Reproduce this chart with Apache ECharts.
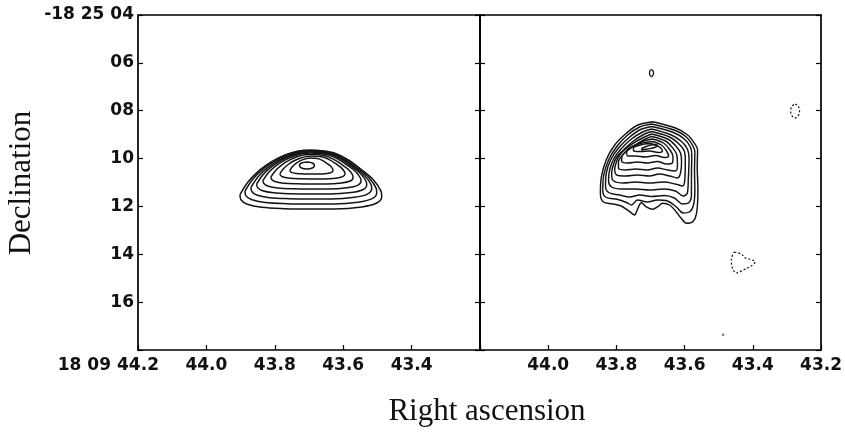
<!DOCTYPE html>
<html><head><meta charset="utf-8">
<script src="https://cdn.jsdelivr.net/npm/echarts@6/dist/echarts.min.js"></script>
<style>html,body{margin:0;padding:0;background:#fff}#c{width:845px;height:434px}</style>
</head><body><div id="c"></div>
<script>
// ---- tick labels ----
const raTickValues = [44.2, 44.0, 43.8, 43.6, 43.4, 43.2];
const raLabelsLeft = ['44.2', '44.0', '43.8', '43.6', '43.4', ''];
const raLabelsRight = ['', '44.0', '43.8', '43.6', '43.4', '43.2'];
const raPrefix = '18 09';
const decTickValues = [4, 6, 8, 10, 12, 14, 16, 18];
const decLabels = ['-18 25 04', '06', '08', '10', '12', '14', '16', ''];

// ---- left panel (model): nested dome-shaped contours ----
// normalised outline of the dome contours (u: -1 left .. 1 right, v: 0 top .. 1 bottom)
const leftDomeU = [-1, -0.882, -0.718, -0.553, -0.365, -0.176, -0.012, 0.153, 0.341, 0.529, 0.718, 0.882, 0.991, 1.0, 0.929, 0.718, 0.341, -0.012, -0.365, -0.694, -0.906, -0.986];
const leftDomeV = [0.758, 0.534, 0.337, 0.197, 0.084, 0.017, 0, 0.011, 0.056, 0.169, 0.337, 0.506, 0.702, 0.787, 0.899, 0.966, 1.0, 1.0, 0.994, 0.972, 0.916, 0.843];
// per contour level: centre RA, half width (RA s), top and bottom Dec (arcsec)
const leftCenterRA = [43.6946, 43.6946, 43.6932, 43.6921, 43.6912, 43.6912, 43.6897, 43.6927];
const leftHalfWidthRA = [0.2072, 0.1926, 0.1765, 0.1608, 0.1433, 0.1199, 0.0950, 0.0629];
const leftTopDec = [9.641, 9.671, 9.696, 9.725, 9.767, 9.821, 9.892, 9.976];
const leftBottomDec = [12.107, 11.898, 11.689, 11.480, 11.271, 11.062, 10.853, 10.644];
const leftPeak = [[43.706,10.143],[43.690,10.186],[43.684,10.289],[43.690,10.392],[43.706,10.435],[43.722,10.392],[43.728,10.289],[43.722,10.186]];

// ---- right panel (observed) contours, [RA s, Dec arcsec] ----
const rightC0 = [[43.693,8.459],[43.625,8.735],[43.591,9.015],[43.571,9.362],[43.562,9.642],[43.563,10.340],[43.561,11.313],[43.565,12.287],[43.576,12.638],[43.594,12.705],[43.610,12.496],[43.625,12.220],[43.644,11.940],[43.664,11.869],[43.679,12.011],[43.693,12.120],[43.713,12.011],[43.727,11.844],[43.737,12.078],[43.747,12.358],[43.761,12.220],[43.786,11.982],[43.810,11.898],[43.839,11.802],[43.847,11.451],[43.844,10.757],[43.830,10.059],[43.805,9.433],[43.771,8.944],[43.737,8.597]];
const rightC1 = [[43.697,8.555],[43.627,8.827],[43.595,9.098],[43.577,9.433],[43.570,9.725],[43.571,10.477],[43.570,11.313],[43.574,11.940],[43.586,12.233],[43.604,12.275],[43.624,12.024],[43.650,11.773],[43.680,11.731],[43.709,11.815],[43.738,11.731],[43.756,11.940],[43.767,11.857],[43.796,11.710],[43.832,11.606],[43.840,11.313],[43.837,10.686],[43.823,10.060],[43.799,9.495],[43.767,9.015],[43.732,8.680]];
const rightC2 = [[43.697,8.660],[43.633,8.910],[43.601,9.182],[43.583,9.516],[43.579,9.851],[43.580,10.686],[43.580,11.522],[43.589,11.857],[43.606,11.898],[43.630,11.647],[43.659,11.543],[43.697,11.585],[43.732,11.522],[43.761,11.606],[43.791,11.522],[43.823,11.418],[43.832,11.146],[43.829,10.561],[43.817,10.060],[43.794,9.558],[43.761,9.098],[43.729,8.785]];
const rightC3 = [[43.697,8.764],[43.639,9.015],[43.609,9.286],[43.592,9.600],[43.587,9.976],[43.589,10.812],[43.592,11.439],[43.604,11.564],[43.627,11.355],[43.662,11.271],[43.703,11.313],[43.744,11.271],[43.785,11.271],[43.814,11.188],[43.823,10.937],[43.820,10.477],[43.808,10.018],[43.788,9.621],[43.756,9.182],[43.723,8.889]];
const rightC4 = [[43.697,8.869],[43.644,9.098],[43.618,9.370],[43.601,9.683],[43.598,10.060],[43.599,10.812],[43.606,11.146],[43.627,11.063],[43.662,10.979],[43.703,11.021],[43.744,10.979],[43.779,11.021],[43.808,10.937],[43.814,10.686],[43.811,10.352],[43.799,9.934],[43.779,9.642],[43.750,9.266],[43.720,8.994]];
const rightC5 = [[43.697,8.973],[43.650,9.182],[43.627,9.454],[43.612,9.767],[43.609,10.143],[43.612,10.603],[43.621,10.812],[43.644,10.728],[43.674,10.645],[43.703,10.728],[43.738,10.686],[43.773,10.728],[43.799,10.686],[43.805,10.436],[43.799,10.101],[43.788,9.809],[43.770,9.558],[43.744,9.307],[43.718,9.098]];
const rightC6 = [[43.697,9.077],[43.656,9.266],[43.636,9.537],[43.623,9.851],[43.621,10.269],[43.627,10.519],[43.650,10.477],[43.680,10.394],[43.709,10.477],[43.744,10.436],[43.773,10.477],[43.794,10.394],[43.794,10.143],[43.782,9.851],[43.761,9.600],[43.738,9.370],[43.715,9.182]];
const rightC7 = [[43.694,9.182],[43.662,9.349],[43.644,9.621],[43.634,9.934],[43.636,10.185],[43.653,10.227],[43.680,10.122],[43.709,10.185],[43.738,10.143],[43.767,10.185],[43.785,10.101],[43.782,9.851],[43.767,9.642],[43.747,9.454],[43.720,9.266]];
const rightC8 = [[43.694,9.286],[43.668,9.433],[43.653,9.683],[43.647,9.892],[43.659,9.955],[43.685,9.871],[43.715,9.934],[43.744,9.892],[43.767,9.892],[43.770,9.683],[43.756,9.516],[43.735,9.391],[43.715,9.328]];
const rightC9 = [[43.700,9.370],[43.677,9.495],[43.665,9.683],[43.677,9.746],[43.703,9.683],[43.729,9.704],[43.750,9.683],[43.750,9.558],[43.735,9.454],[43.718,9.391]];
const rightC10 = [[43.726,9.579],[43.709,9.475],[43.688,9.412],[43.680,9.454],[43.688,9.537],[43.709,9.600],[43.726,9.642]];
const rightBlob = [[43.697,6.278],[43.701,6.321],[43.703,6.424],[43.701,6.527],[43.697,6.570],[43.693,6.527],[43.691,6.424],[43.693,6.321]];
// negative (dashed) contours
const rightNegC = [[43.276,7.722],[43.267,7.807],[43.263,8.012],[43.267,8.217],[43.276,8.302],[43.285,8.217],[43.289,8.012],[43.285,7.807]];
const rightNegTri = [[43.454,13.904],[43.434,13.988],[43.422,14.155],[43.411,14.197],[43.393,14.322],[43.405,14.489],[43.428,14.657],[43.448,14.782],[43.460,14.573],[43.463,14.197]];
const rightDot = [[43.487,17.360]];

// ---- build ----
const LINE = '#141414';
function closeLoop(p){ return p.concat([p[0]]); }
function dome(i){
  return leftDomeU.map((u,k)=>[leftCenterRA[i] - u*leftHalfWidthRA[i], leftTopDec[i] + leftDomeV[k]*(leftBottomDec[i]-leftTopDec[i])]);
}
function contourSeries(pts, xi, yi, dashed, w){
  return {type:'line', xAxisIndex:xi, yAxisIndex:yi, data:closeLoop(pts), showSymbol:false, symbol:'none',
    smooth:0.35, silent:true,
    lineStyle:{color:LINE, width:w||1.4, type: dashed ? [2,2] : 'solid'}};
}
const series = [];
for (let i=0;i<leftCenterRA.length;i++) series.push(contourSeries(dome(i),0,0,false,1.5));
series.push(contourSeries(leftPeak,0,0,false,1.5));
[rightC0,rightC1,rightC2,rightC3,rightC4,rightC5,rightC6,rightC7,rightC8,rightC9,rightC10].forEach(c=>series.push(contourSeries(c,1,2,false,1.45)));
series.push(contourSeries(rightBlob,1,2,false,1.3));
series.push(contourSeries(rightNegC,1,2,true,1.2));
series.push(contourSeries(rightNegTri,1,2,true,1.2));
series.push({type:'scatter', xAxisIndex:1, yAxisIndex:2, data:rightDot, symbolSize:2.5, itemStyle:{color:'#555'}, silent:true});

const tickFont = {fontFamily:'DejaVu Sans', fontWeight:'bold', fontSize:17, color:'#111'};
function pick(vals, labels, v){
  for (let i=0;i<vals.length;i++) if (Math.abs(vals[i]-v)<1e-6) return labels[i];
  return '';
}
function xAxis(gi, labels){
  return {type:'value', gridIndex:gi, min:43.2, max:44.2, interval:0.2, inverse:true,
    axisLine:{show:true, lineStyle:{color:'#000', width:1.7}},
    axisTick:{show:true, inside:true, length:5, lineStyle:{color:'#000', width:1.2}},
    splitLine:{show:false},
    axisLabel:Object.assign({margin:7, showMinLabel:true, showMaxLabel:true, hideOverlap:false,
      formatter:(v)=>pick(raTickValues, labels, v)}, tickFont)};
}
function yAxis(gi, pos, showLabels){
  return {type:'value', gridIndex:gi, position:pos, min:4, max:18, interval:2, inverse:true,
    axisLine:{show:true, lineStyle:{color:'#000', width:1.7}},
    axisTick:{show:true, inside:true, length:5, lineStyle:{color:'#000', width:1.2}},
    splitLine:{show:false},
    axisLabel:Object.assign({show:showLabels, margin:4, formatter:(v)=>pick(decTickValues, decLabels, v)}, tickFont)};
}
function topAxis(gi){
  return {type:'value', gridIndex:gi, position:'top', min:43.2, max:44.2, inverse:true,
    axisLine:{show:true, lineStyle:{color:'#000', width:1.7}}, axisTick:{show:false}, axisLabel:{show:false}, splitLine:{show:false}};
}

const chart = echarts.init(document.getElementById('c'), null, {renderer:'canvas'});
chart.setOption({
  animation:false,
  backgroundColor:'#fff',
  grid:[
    {left:138, top:15, width:342, height:335, show:false},
    {left:480, top:15, width:342, height:335, show:false}
  ],
  xAxis:[xAxis(0, raLabelsLeft), xAxis(1, raLabelsRight), topAxis(0), topAxis(1)],
  yAxis:[yAxis(0,'left',true), yAxis(0,'right',false), yAxis(1,'left',false), yAxis(1,'right',false)],
  graphic:[
    {type:'text', x:111, y:357, style:{text:raPrefix, font:'bold 17px "DejaVu Sans"', fill:'#111', textAlign:'right', textVerticalAlign:'top'}},
    {type:'text', x:22, y:183, rotation:Math.PI/2, style:{text:'Declination', font:'31px "Liberation Serif"', fill:'#111', textAlign:'center', textVerticalAlign:'middle'}},
    {type:'text', x:487, y:412, style:{text:'Right ascension', font:'31px "Liberation Serif"', fill:'#111', textAlign:'center', textVerticalAlign:'middle'}}
  ],
  series: series
});
</script></body></html>
